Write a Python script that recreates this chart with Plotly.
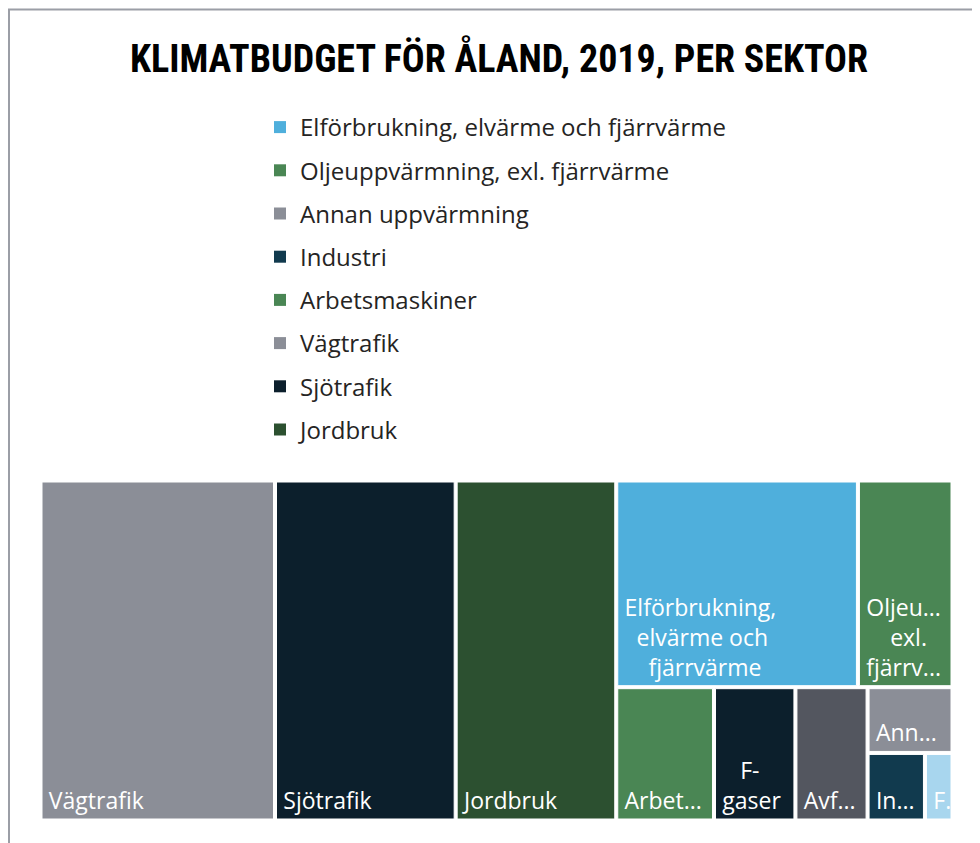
import plotly.graph_objects as go

# ---- data (andel av utsläppen, %) ----
sectors = ["Vägtrafik", "Sjötrafik", "Jordbruk",
           "Elförbrukning, elvärme och fjärrvärme", "Oljeuppvärmning, exl. fjärrvärme",
           "Arbetsmaskiner", "F-gaser", "Avfall", "Annan uppvärmning", "Industri", "Flygtrafik"]
values = [25.7, 19.8, 17.6, 16.1, 6.3, 4.2, 3.5, 3.1, 1.8, 1.25, 0.6]
display_text = ["Vägtrafik", "Sjötrafik", "Jordbruk",
                "Elförbrukning,<br>&nbsp;&nbsp;elvärme och<br>&nbsp;&nbsp;&nbsp;&nbsp;fjärrvärme",
                "Oljeu...<br>&nbsp;&nbsp;&nbsp;&nbsp;exl.<br>fjärrv...",
                "Arbet...", "&nbsp;&nbsp;&nbsp;F-<br>gaser", "Avf...", "Ann...", "In...", "F..."]
colors = ["#8b8e97", "#0c1f2c", "#2c5030", "#4fafdc", "#4a8654",
          "#4a8654", "#0c1f2c", "#53565f", "#8b8e97", "#113a4e", "#a8d6ee"]

legend_names = ["Elförbrukning, elvärme och fjärrvärme", "Oljeuppvärmning, exl. fjärrvärme",
                "Annan uppvärmning", "Industri", "Arbetsmaskiner", "Vägtrafik", "Sjötrafik", "Jordbruk"]
legend_colors = ["#4fafdc", "#4a8654", "#8b8e97", "#113a4e", "#4a8654", "#8b8e97", "#0c1f2c", "#2c5030"]

title_text = "KLIMATBUDGET FÖR ÅLAND, 2019, PER SEKTOR"

# small inset of the cell labels from the cell edge (thin space before each line)
display_text = ["<br>".join("\u2009" + line for line in t.split("<br>")) for t in display_text]

# layout group so that the three largest sectors form full-height columns
group_id = "övriga"
top_level = sectors[:3]

ids = sectors + [group_id]
labels = sectors + [""]
parents = ["" if s in top_level else group_id for s in sectors] + [""]
vals = values + [0]
texts = display_text + [""]
cols = colors + ["rgba(0,0,0,0)"]
line_w = [1] * len(sectors) + [0]

# order: three big sectors first, then the group, then its children
order = [0, 1, 2, len(sectors)] + list(range(3, len(sectors)))
ids = [ids[i] for i in order]
labels = [labels[i] for i in order]
parents = [parents[i] for i in order]
vals = [vals[i] for i in order]
texts = [texts[i] for i in order]
cols = [cols[i] for i in order]
line_w = [line_w[i] for i in order]

W, H = 980, 843

fig = go.Figure()
fig.add_trace(go.Treemap(
    ids=ids, labels=labels, parents=parents, values=vals,
    branchvalues="remainder", sort=False,
    text=texts, textinfo="text", textposition="bottom left",
    textfont=dict(family="Open Sans, Noto Sans, sans-serif", size=23, color="white"),
    marker=dict(colors=cols, line=dict(color="white", width=line_w),
                pad=dict(t=0, l=0, r=0, b=0), depthfade=False),
    tiling=dict(packing="squarify", pad=3),
    pathbar=dict(visible=False),
    hoverinfo="label+value",
    domain=dict(x=[34 / W, 943 / W], y=[1 - 811 / H, 1 - 474 / H]),
))

for i, (n, c) in enumerate(zip(legend_names, legend_colors)):
    fig.add_trace(go.Scatter(
        x=[None], y=[None], mode="markers", name=n, legendgroup=f"g{i}",
        marker=dict(symbol="square", size=12, color=c), showlegend=True,
    ))

fig.update_layout(
    width=W, height=H,
    margin=dict(l=0, r=0, t=0, b=0, autoexpand=False),
    paper_bgcolor="white", plot_bgcolor="white",
    uniformtext=dict(minsize=23, mode="show"),
    title=dict(text=f"<b>{title_text}</b>", x=491 / W, xanchor="center", xref="container",
               y=1 - 50.5 / H, yanchor="middle", yref="container",
               font=dict(family="Roboto Condensed, Liberation Sans Narrow, Roboto, sans-serif",
                         size=38, color="black")),
    legend=dict(xref="paper", yref="paper", x=252 / W, y=1 - 97 / H,
                xanchor="left", yanchor="top", traceorder="grouped", tracegroupgap=9,
                bgcolor="rgba(0,0,0,0)",
                font=dict(family="Open Sans, Noto Sans, sans-serif", size=24, color="#252423"),
                itemclick=False, itemdoubleclick=False),
    xaxis=dict(visible=False), yaxis=dict(visible=False),
    shapes=[dict(type="rect", xref="paper", yref="paper",
                 x0=1 / W, x1=1.05, y0=-0.05, y1=1 - 1.5 / H,
                 line=dict(color="#9b9ea6", width=2), fillcolor="rgba(0,0,0,0)", layer="below")],
)

fig.write_html("out.html")
